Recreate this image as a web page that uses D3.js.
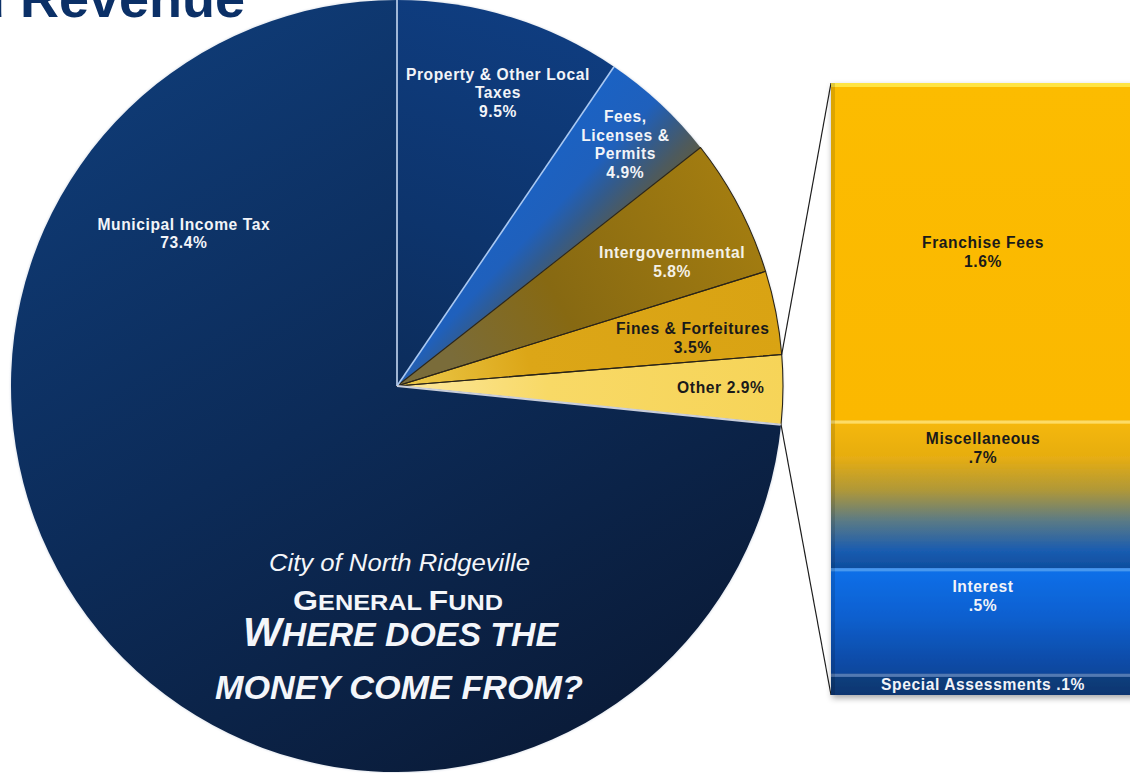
<!DOCTYPE html>
<html><head><meta charset="utf-8">
<script src="https://cdn.jsdelivr.net/npm/d3@7"></script>
<style>html,body{margin:0;padding:0;background:#fff;overflow:hidden}</style>
</head><body><svg id="chart" width="1130" height="773"></svg>
<script>
// ---------- DATA ----------
const categories = ["Property & Other Local Taxes", "Fees, Licenses & Permits", "Intergovernmental", "Fines & Forfeitures", "Other", "Municipal Income Tax"];
const values = [9.5, 4.9, 5.8, 3.5, 2.9, 73.4];
const labelLines = [["Property & Other Local", "Taxes", "9.5%"], ["Fees,", "Licenses &", "Permits", "4.9%"], ["Intergovernmental", "5.8%"], ["Fines & Forfeitures", "3.5%"], ["Other 2.9%"], ["Municipal Income Tax", "73.4%"]];
const breakdownCategories = ["Franchise Fees", "Miscellaneous", "Interest", "Special Assessments"];
const breakdownValues = [1.6, 0.7, 0.5, 0.1];
const breakdownLabels = [["Franchise Fees", "1.6%"], ["Miscellaneous", ".7%"], ["Interest", ".5%"], ["Special Assessments .1%"]];
const titleText = "General Fund Revenue";
const subtitleText = "City of North Ridgeville";

// ---------- LAYOUT / STYLE ----------
const W = 1130, H = 773;
const cx = 397, cy = 386, R = 386;
const bar = {x: 831, w: 306, y0: 83, y1: 695};
const labelPolar = [[19.0, .803], [43.4, .861], [65.7, .782], [80.8, .776], [90.3, .839], [305.6, .679]];
const labelColor = ["#f2f4f8", "#f2f4f8", "#f4f1e6", "#1a1a1a", "#1a1a1a", "#f2f4f8"];
const barLabelColor = ["#1a1a1a", "#1a1a1a", "#f2f4f8", "#f2f4f8"];
const lineH = 18.7;

const svg = d3.select("#chart");
svg.append("rect").attr("width", W).attr("height", H).attr("fill", "#fff");
const defs = svg.append("defs");

function lin(id, x1, y1, x2, y2, stops) {
  const g = defs.append("linearGradient").attr("id", id).attr("gradientUnits", "userSpaceOnUse")
    .attr("x1", x1).attr("y1", y1).attr("x2", x2).attr("y2", y2);
  stops.forEach(s => g.append("stop").attr("offset", s[0]).attr("stop-color", s[1]));
  return `url(#${id})`;
}
const linP = (id, x1, y1, x2, y2, stops) => lin(id, x1 - cx, y1 - cy, x2 - cx, y2 - cy, stops);
const sliceFills = [
  linP("gProp", 520, 10, 410, 380, [[0, "#0f3d80"], [0.6, "#0d346c"], [1, "#0c2d5c"]]),
  linP("gFees", 350, 342, 444, 430, [[0, "#1a62c4"], [0.45, "#1f60bc"], [0.65, "#335b8c"], [0.85, "#4d5a5e"], [1, "#5c5c44"]]),
  linP("gInter", 470, 390, 770, 220, [[0, "#7a6c3a"], [0.35, "#876912"], [1, "#a57e10"]]),
  linP("gFines", 420, 385, 785, 320, [[0, "#e9c444"], [0.3, "#dca617"], [1, "#d9a313"]]),
  linP("gOther", 420, 392, 785, 400, [[0, "#fbe596"], [0.35, "#f8d966"], [1, "#f6d458"]]),
  linP("gMuni", 150, 40, 560, 760, [[0, "#0f3b76"], [0.5, "#0c2b58"], [1, "#0a1b38"]])
];
const sliceStroke = [null, null, "#2a2418", "#2a2418", "#2a2418", null];

const f = defs.append("filter").attr("id", "shadow").attr("x", "-10%").attr("y", "-10%").attr("width", "130%").attr("height", "130%");
f.append("feDropShadow").attr("dx", 1).attr("dy", 3).attr("stdDeviation", 3).attr("flood-color", "#000").attr("flood-opacity", 0.35);
const edge = defs.append("filter").attr("id", "soft").attr("x", "-5%").attr("y", "-5%").attr("width", "110%").attr("height", "110%");
edge.append("feGaussianBlur").attr("stdDeviation", 1.2);

// ---------- TITLE ----------
svg.append("text").attr("x", 245).attr("y", 17).attr("text-anchor", "end")
  .attr("font-family", "Liberation Sans, Arial, sans-serif").attr("font-weight", "bold")
  .attr("font-size", 54).attr("fill", "#0b3067").text(titleText);

// ---------- PIE ----------
const pie = d3.pie().sort(null).value(d => d)(values);
const arc = d3.arc().innerRadius(0).outerRadius(R);
const g = svg.append("g").attr("transform", `translate(${cx},${cy})`);

g.append("circle").attr("r", R + 0.5).attr("fill", "#8fa0bc").attr("opacity", 0.35).attr("filter", "url(#soft)");

g.selectAll("path.slice").data(pie).join("path").attr("class", "slice")
  .attr("d", arc).attr("fill", (d, i) => sliceFills[i]);
g.selectAll("path.gold").data(pie.filter((d, i) => sliceStroke[i])).join("path").attr("class", "gold")
  .attr("d", arc).attr("fill", "none").attr("stroke", "#2a2418").attr("stroke-width", 1.1)
  .attr("stroke-linejoin", "round");

const lightBounds = [pie[0].startAngle, pie[0].endAngle, pie[4].endAngle];
const lightColors = ["#c6d8f2", "#a9c8f2", "#c9cedb"];
lightBounds.forEach((a, i) => {
  g.append("line").attr("x1", 0).attr("y1", 0)
    .attr("x2", R * Math.sin(a)).attr("y2", -R * Math.cos(a))
    .attr("stroke", lightColors[i]).attr("stroke-width", i === 2 ? 2.2 : 1.6);
});

const lblFont = "Liberation Sans, Arial, sans-serif";
pie.forEach((d, i) => {
  const [ang, rf] = labelPolar[i];
  const a = ang * Math.PI / 180;
  const x = R * rf * Math.sin(a), y = -R * rf * Math.cos(a);
  const lines = labelLines[i];
  const firstBase = y + 5.5 - (lines.length - 1) * lineH / 2;
  const t = g.append("text").attr("text-anchor", "middle").attr("font-family", lblFont)
    .attr("font-weight", "bold").attr("font-size", 15.6).attr("letter-spacing", 0.6)
    .attr("fill", labelColor[i]);
  lines.forEach((ln, k) => t.append("tspan").attr("x", x).attr("y", firstBase + k * lineH).text(ln));
});

// ---------- CENTER TITLE ----------
const ct = svg.append("g").attr("fill", "#f4f6fa").attr("font-family", lblFont).attr("text-anchor", "middle");
ct.append("text").attr("x", 399.5).attr("y", 571).attr("font-size", 23).attr("font-style", "italic")
  .attr("textLength", 261).attr("lengthAdjust", "spacingAndGlyphs").text(subtitleText);
function smallCaps(y, parts, len, italic, x) {
  const t = ct.append("text").attr("x", x).attr("y", y).attr("font-weight", "bold")
    .attr("font-style", italic ? "italic" : "normal")
    .attr("textLength", len).attr("lengthAdjust", "spacingAndGlyphs");
  parts.forEach(p => t.append("tspan").attr("font-size", p[1]).text(p[0]));
}
smallCaps(610, [["G", 28], ["ENERAL ", 22], ["F", 28], ["UND", 22]], 210, false, 398);
smallCaps(646, [["W", 40], ["HERE DOES THE", 33]], 315, true, 400.5);
smallCaps(699, [["MONEY COME FROM?", 33]], 368, true, 399);

// ---------- BREAKDOWN BAR ----------
const y = d3.scaleLinear().domain([0, d3.sum(breakdownValues)]).range([bar.y0, bar.y1]);
const cum = d3.cumsum(breakdownValues);
const segs = breakdownValues.map((v, i) => ({v, i, top: y(cum[i] - v), bot: y(cum[i])}));

const segFills = [
  s => lin("b0", 0, s.top, 0, s.bot, [[0, "#fcbc06"], [1, "#fbb800"]]),
  s => lin("b1", 0, s.top, 0, s.bot, [[0, "#f6b806"], [0.25, "#e6ad12"], [0.47, "#b09838"], [0.68, "#5a7a86"], [0.88, "#1a5cb0"], [1, "#0d4e9e"]]),
  s => lin("b2", 0, s.top, 0, s.bot, [[0, "#0a70ea"], [0.45, "#0a60d0"], [1, "#0b469c"]]),
  s => lin("b3", 0, s.top, 0, s.bot, [[0, "#11407f"], [1, "#0b3570"]])
];
const topHi = ["#ffe84a", "#ffe070", "#4e9cf0", "#5a7fb8"];

const oth = pie[4];
const pA = [cx + R * Math.sin(oth.startAngle), cy - R * Math.cos(oth.startAngle)];
const pB = [cx + R * Math.sin(oth.endAngle), cy - R * Math.cos(oth.endAngle)];
svg.append("line").attr("x1", pA[0]).attr("y1", pA[1]).attr("x2", bar.x).attr("y2", bar.y0)
  .attr("stroke", "#1d1d1d").attr("stroke-width", 1.2);
svg.append("line").attr("x1", pB[0]).attr("y1", pB[1]).attr("x2", bar.x).attr("y2", bar.y1)
  .attr("stroke", "#1d1d1d").attr("stroke-width", 1.2);

const bg = svg.append("g").attr("filter", "url(#shadow)");
bg.selectAll("rect.seg").data(segs).join("rect").attr("class", "seg")
  .attr("x", bar.x).attr("width", bar.w).attr("y", d => d.top).attr("height", d => d.bot - d.top)
  .attr("fill", d => segFills[d.i](d));
svg.selectAll("rect.hi").data(segs).join("rect").attr("class", "hi")
  .attr("x", bar.x).attr("width", bar.w).attr("y", d => d.top).attr("height", d => d.i === 0 ? 4 : 3)
  .attr("fill", d => topHi[d.i]).attr("opacity", 0.9);
svg.append("rect").attr("x", bar.x).attr("y", bar.y0).attr("width", 4).attr("height", bar.y1 - bar.y0)
  .attr("fill", "#000").attr("opacity", 0.12);

const bl = svg.append("g").attr("text-anchor", "middle").attr("font-family", lblFont)
  .attr("font-weight", "bold").attr("font-size", 15.6).attr("letter-spacing", 0.6);
segs.forEach(s => {
  const lines = breakdownLabels[s.i];
  let base;
  if (s.i === 0 || s.i === 3) base = (s.top + s.bot) / 2 + 5.5 - (lines.length - 1) * lineH / 2;
  else base = s.top + 23.5;
  const t = bl.append("text").attr("fill", barLabelColor[s.i]);
  lines.forEach((ln, k) => t.append("tspan").attr("x", bar.x + bar.w / 2 - 1).attr("y", base + k * lineH).text(ln));
});
</script>
</body></html>
